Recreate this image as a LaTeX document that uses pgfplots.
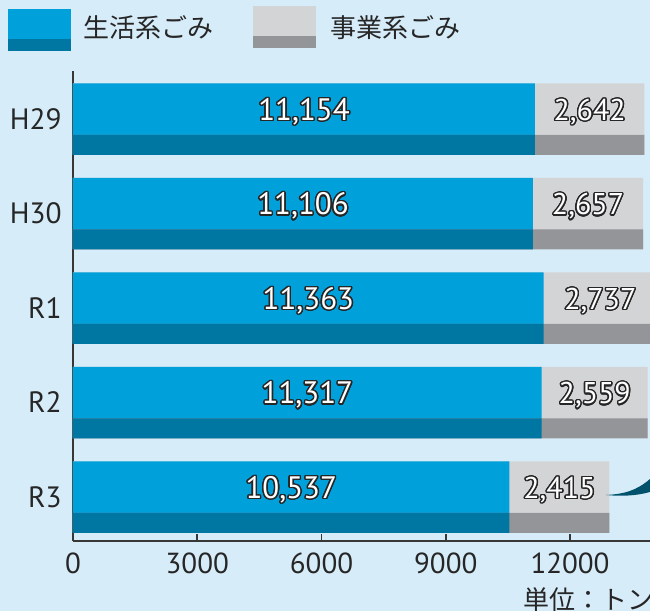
\documentclass[border=0pt]{standalone}
\usepackage{pgfplots}
\pgfplotsset{compat=1.18}
\usepackage{pgfplotstable}
\usepackage{fontspec}
\setmainfont{PT Sans}
\newfontfamily\jp{Noto Sans CJK JP}
\usepackage{contour}
\contourlength{0.7pt}
\contournumber{24}

\definecolor{bg}{RGB}{214,236,249}
\definecolor{hhL}{RGB}{0,160,219}
\definecolor{hhD}{RGB}{0,118,163}
\definecolor{bbL}{RGB}{211,212,214}
\definecolor{bbD}{RGB}{147,149,152}
\definecolor{axc}{RGB}{55,55,55}
\definecolor{tealc}{RGB}{0,82,108}

% y: H29=4 ... R3=0
\pgfplotstableread{
y hh bb total hhmid bbmid hhlab bblab
4 11154 2642 13796 5577 12475 11,154 2,642
3 11106 2657 13763 5553 12435 11,106 2,657
2 11363 2737 14100 5682 12732 11,363 2,737
1 11317 2559 13876 5659 12597 11,317 2,559
0 10537 2415 12952 5269 11745 10,537 2,415
}\data

\begin{document}
\begin{tikzpicture}
\useasboundingbox (0,0) rectangle (325pt,305.5pt);
\clip (0,0) rectangle (325pt,305.5pt);
\fill[bg] (0,0) rectangle (325pt,305.5pt);

\begin{axis}[
  at={(36.5pt,35pt)}, anchor=south west,
  scale only axis, width=288.5pt, height=235pt,
  xmin=0, xmax=13931, ymin=-0.466, ymax=4.508,
  axis x line*=bottom, axis y line*=left,
  axis line style={axc, line width=0.8pt},
  tick align=inside,
  xtick={0,3000,6000,9000,12000},
  major tick length=3.5pt, minor tick length=7.5pt,
  every tick/.style={axc, line width=0.8pt},
  ytick=\empty,
  minor ytick={0.5,1.5,2.5,3.5,4.5},
  extra y ticks={0,1,2,3,4},
  extra y tick labels={R3,R2,R1,H30,H29},
  extra y tick style={major tick length=0pt},
  scaled x ticks=false,
  /pgf/number format/assume math mode=true,
  /pgf/number format/set thousands separator={},
  xticklabel style={font=\fontsize{14.5pt}{16pt}\selectfont, text=black!85, inner sep=0pt, yshift=-5.5pt},
  yticklabel style={font=\fontsize{14.7pt}{17pt}\selectfont, text=black!85, inner sep=0pt, xshift=-5.5pt},
]
\addplot[xbar, bar width=35.5pt, bar shift=0pt, fill=bbL, draw=none] table[x=total,y=y]{\data};
\addplot[xbar, bar width=35.5pt, bar shift=0pt, fill=hhL, draw=none] table[x=hh,y=y]{\data};
\addplot[xbar, bar width=10pt, bar shift=-13pt, fill=bbD, draw=none] table[x=total,y=y]{\data};
\addplot[xbar, bar width=10pt, bar shift=-13pt, fill=hhD, draw=none] table[x=hh,y=y]{\data};
\addplot[draw=none, mark=none, nodes near coords={\contour{black!85}{\pgfplotspointmeta}},
  point meta=explicit symbolic,
  every node near coord/.style={anchor=base, yshift=-0.75pt, inner sep=0pt, text=white,
    font=\fontsize{15.5pt}{17pt}\selectfont}]
  table[x=hhmid,y=y,meta=hhlab]{\data};
\addplot[draw=none, mark=none, nodes near coords={\contour{black!85}{\pgfplotspointmeta}},
  point meta=explicit symbolic,
  every node near coord/.style={anchor=base, yshift=-0.75pt, inner sep=0pt, text=white,
    font=\fontsize{15pt}{17pt}\selectfont}]
  table[x=bbmid,y=y,meta=bblab]{\data};
\end{axis}

% legend
\fill[hhL] (4pt,286pt) rectangle (35.5pt,301pt);
\fill[hhD] (4pt,280pt) rectangle (35.5pt,286pt);
\node[anchor=west, inner sep=0pt, text=black!85, font=\jp\fontsize{13pt}{15pt}\selectfont] at (41.5pt,291.5pt) {生活系ごみ};
\fill[bbL] (126.5pt,287.5pt) rectangle (158pt,302.5pt);
\fill[bbD] (126.5pt,281.5pt) rectangle (158pt,287.5pt);
\node[anchor=west, inner sep=0pt, text=black!85, font=\jp\fontsize{13pt}{15pt}\selectfont] at (165pt,291.5pt) {事業系ごみ};

% unit
\node[anchor=base west, inner sep=0pt, text=black!85, font=\jp\fontsize{13pt}{15pt}\selectfont] at (261.5pt,0.5pt) {単位：トン};

% decorative wedge
\fill[tealc] (303pt,58pt) .. controls (312pt,58.5pt) and (318pt,60pt) .. (325pt,66pt)
  -- (325pt,59.5pt) .. controls (318pt,57.5pt) and (310pt,57.3pt) .. (303pt,58pt) -- cycle;
\end{tikzpicture}
\end{document}
